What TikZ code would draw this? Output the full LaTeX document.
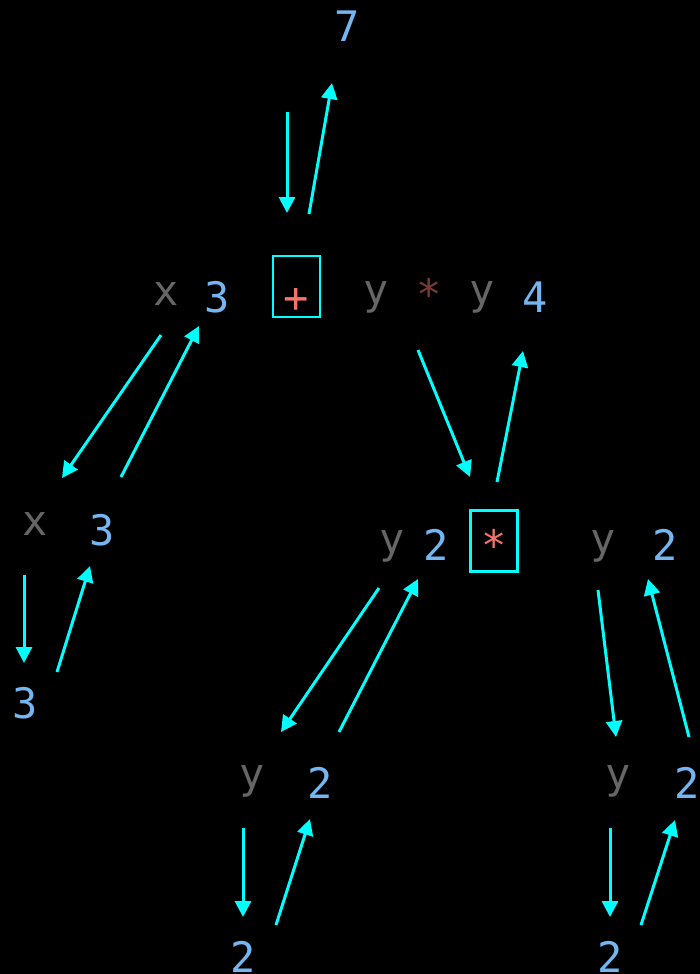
\documentclass[tikz,border=0pt]{standalone}
\usepackage{fontspec}
\setmonofont{DejaVu Sans Mono}
\usetikzlibrary{arrows.meta}
\definecolor{varcol}{HTML}{666666}
\definecolor{valcol}{HTML}{74B6F2}
\definecolor{opcol}{HTML}{F4736A}
\definecolor{dimop}{HTML}{7A3B33}
\definecolor{flowcol}{HTML}{00FFFF}
\tikzset{
  txt/.style={anchor=base, inner sep=0pt, font=\ttfamily\fontsize{42}{42}\selectfont},
  var/.style={txt, text=varcol},
  val/.style={txt, text=valcol},
  opbox/.style={draw=flowcol, line width=2.5pt, minimum width=47pt, minimum height=61pt,
    inner sep=0pt, text depth=0pt, text=opcol, font=\ttfamily\fontsize{42}{42}\selectfont},
  flowarr/.style={draw=flowcol, line width=3pt, -{Triangle[length=16pt,width=16pt]}}
}
\begin{document}
\begin{tikzpicture}[x=1pt,y=-1pt]
\useasboundingbox (0,0) rectangle (700,974);
\fill[black] (0,0) rectangle (700,974);
% result
\node[val] (res) at (347,42) {7};
% top row: x 3 [+] y * y 4
\node[var] (x1) at (166,305) {x};
\node[val] (x1v) at (217,312) {3};
\node[opbox, text height=51pt] (plus) at (296.5,286.5) {+};
\node[var] (ya) at (376,304) {y};
\node[txt, text=dimop] (mul1) at (429,309) {*};
\node[var] (yb) at (482,304) {y};
\node[val] (mulv) at (535,312) {4};
% second row
\node[var] (x2) at (35,535) {x};
\node[val] (x2v) at (102,545) {3};
\node[val] (x3) at (25,718) {3};
\node[var] (ya2) at (392,553) {y};
\node[val] (ya2v) at (436,560) {2};
\node[opbox, text height=38pt] (mul) at (494,541) {*};
\node[var] (yb2) at (603,553) {y};
\node[val] (yb2v) at (665,560) {2};
% third row
\node[var] (ya3) at (252,788) {y};
\node[val] (ya3v) at (320,798) {2};
\node[val] (ya4) at (243,972) {2};
\node[var] (yb3) at (618,788) {y};
\node[val] (yb3v) at (687,798) {2};
\node[val] (yb4) at (610,972) {2};
% arrow ends
\coordinate (p0) at (287,112); \coordinate (p1) at (287,213);
\coordinate (p2) at (309,214); \coordinate (p3) at (332,83);
\coordinate (l0) at (161,335); \coordinate (l1) at (62,478);
\coordinate (l2) at (121,477); \coordinate (l3) at (199,326);
\coordinate (r0) at (418,350); \coordinate (r1) at (470,477);
\coordinate (r2) at (497,482); \coordinate (r3) at (523,351);
\coordinate (x0) at (24,575);  \coordinate (xx1) at (24,663);
\coordinate (xx2) at (57,672); \coordinate (xx3) at (90,566);
\coordinate (m0) at (379,588); \coordinate (m1) at (281,732);
\coordinate (m2) at (339,732); \coordinate (m3) at (418,579);
\coordinate (n0) at (598,590); \coordinate (n1) at (616,737);
\coordinate (n2) at (689,737); \coordinate (n3) at (648,579);
\coordinate (s0) at (243,828); \coordinate (s1) at (243,917);
\coordinate (s2) at (276,925); \coordinate (s3) at (310,819);
\coordinate (t0) at (610,828); \coordinate (t1) at (610,917);
\coordinate (t2) at (641,925); \coordinate (t3) at (675,820);
% arrows
\foreach \a/\b in {p0/p1,p2/p3,l0/l1,l2/l3,r0/r1,r2/r3,x0/xx1,xx2/xx3,m0/m1,m2/m3,n0/n1,n2/n3,s0/s1,s2/s3,t0/t1,t2/t3}
  \draw[flowarr] (\a) -- (\b);
\end{tikzpicture}
\end{document}
